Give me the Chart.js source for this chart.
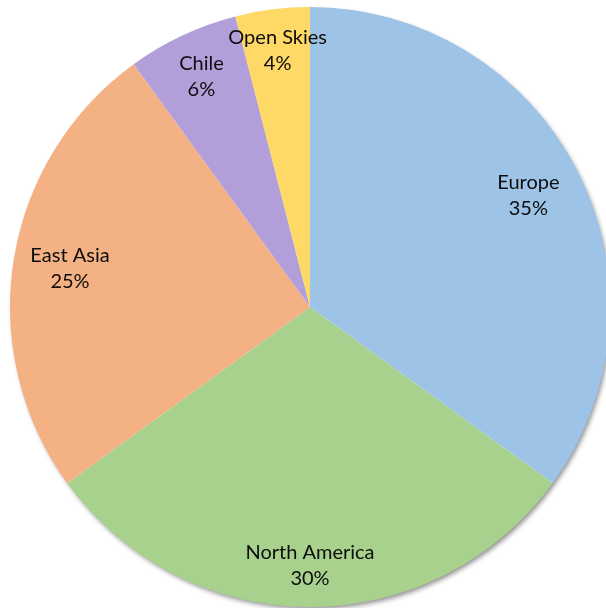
<!DOCTYPE html>
<html>
<head>
<meta charset="utf-8">
<script src="https://cdn.jsdelivr.net/npm/chart.js@4.4.1/dist/chart.umd.min.js"></script>
<style>
  html, body { margin: 0; padding: 0; background: #ffffff; overflow: hidden; width: 606px; height: 608px; }
  #wrap { position: absolute; left: 0; top: 0; width: 620px; height: 608px; }
</style>
</head>
<body>
<div id="wrap"><canvas id="c" width="620" height="608"></canvas></div>
<script>
const categories = ["Europe", "North America", "East Asia", "Chile", "Open Skies"];
const shares = [35, 30, 25, 6, 4];
const sliceColors = ["#9DC3E6", "#A9D18E", "#F4B183", "#B29FD9", "#FFD966"];

const shadowPlugin = {
  id: "pieShadow",
  beforeDatasetsDraw(chart) {
    const arc = chart.getDatasetMeta(0).data[0];
    if (!arc) return;
    const ctx = chart.ctx;
    ctx.save();
    ctx.shadowColor = "rgba(0,0,0,0.45)";
    ctx.shadowBlur = 5;
    ctx.shadowOffsetX = 2;
    ctx.shadowOffsetY = 3;
    ctx.fillStyle = "#ffffff";
    ctx.beginPath();
    ctx.arc(arc.x, arc.y, arc.outerRadius - 1, 0, Math.PI * 2);
    ctx.fill();
    ctx.restore();
  }
};

const labelPlugin = {
  id: "sliceLabels",
  afterDatasetsDraw(chart, args, opts) {
    const ctx = chart.ctx;
    const meta = chart.getDatasetMeta(0);
    const fr = opts.radiusFractions || [];
    ctx.save();
    ctx.fillStyle = "#0d0d0d";
    ctx.font = "20px Lato, 'Open Sans', sans-serif";
    ctx.textAlign = "center";
    ctx.textBaseline = "middle";
    meta.data.forEach((arc, i) => {
      const mid = (arc.startAngle + arc.endAngle) / 2;
      const r = arc.outerRadius * (fr[i] || 0.84);
      const x = arc.x + Math.cos(mid) * r;
      const y = arc.y + Math.sin(mid) * r;
      ctx.fillText(categories[i], x, y - 13);
      ctx.fillText(shares[i] + "%", x, y + 13);
    });
    ctx.restore();
  }
};

new Chart(document.getElementById("c"), {
  type: "pie",
  data: {
    labels: categories,
    datasets: [{
      data: shares,
      backgroundColor: sliceColors,
      borderWidth: 0
    }]
  },
  options: {
    responsive: false,
    animation: false,
    layout: { padding: { top: 7, bottom: 1, left: 10, right: 10 } },
    plugins: {
      legend: { display: false },
      tooltip: { enabled: false },
      title: { display: false },
      sliceLabels: { radiusFractions: [0.817, 0.863, 0.81, 0.85, 0.86] }
    }
  },
  plugins: [shadowPlugin, labelPlugin]
});
</script>
</body>
</html>
